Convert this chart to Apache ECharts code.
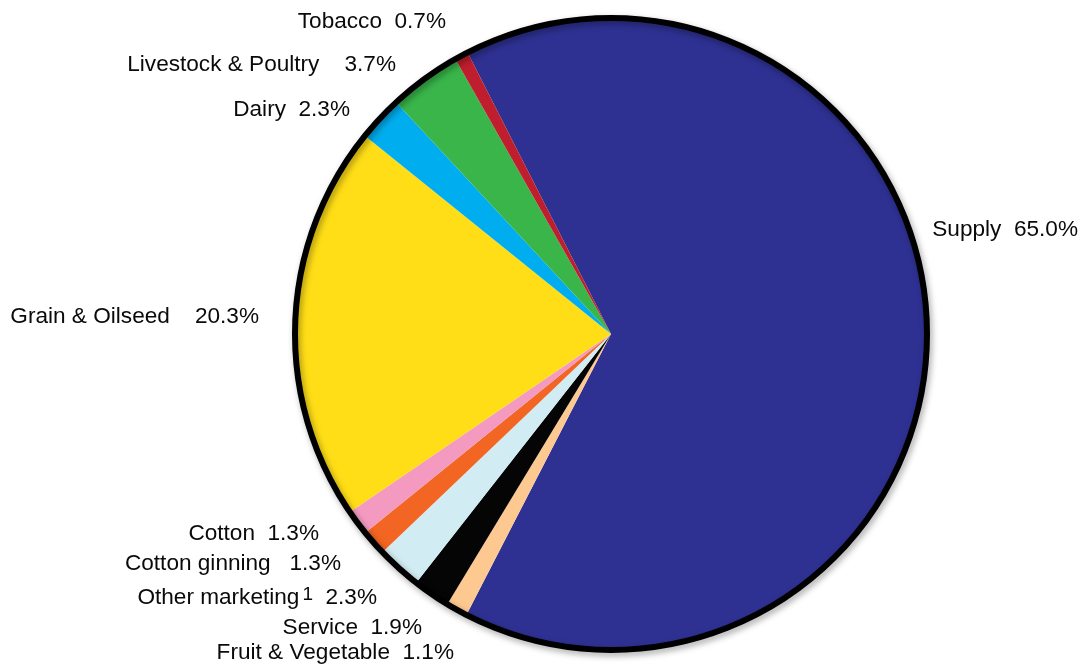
<!DOCTYPE html>
<html>
<head>
<meta charset="utf-8">
<script src="https://cdn.jsdelivr.net/npm/echarts@6/dist/echarts.min.js"></script>
<style>
  html, body { margin: 0; padding: 0; background: #ffffff; }
  #chart { width: 1082px; height: 669px; }
</style>
</head>
<body>
<div id="chart"></div>
<script>
// Shares by sector, listed clockwise starting from Supply
const categories = ['Supply', 'Fruit & Vegetable', 'Service', 'Other marketing', 'Cotton ginning',
                    'Cotton', 'Grain & Oilseed', 'Dairy', 'Livestock & Poultry', 'Tobacco'];
const shares = [65.0, 1.1, 1.9, 2.3, 1.3, 1.3, 20.3, 2.3, 3.7, 0.7];
const footnotes = ['', '', '', '1', '', '', '', '', '', ''];

// Slice colours, same order as categories
const sliceColors = ['#2E3192', '#FDC991', '#050505', '#D2ECF3', '#F26522',
                     '#F49AC1', '#FFDE17', '#00AEEF', '#39B54A', '#BE1E2D'];

// Gap between name and percentage in each label
const labelGaps = ['  ', '  ', '  ', '  ', '   ', '  ', '    ', '  ', '    ', '  '];
// Label anchor: [x, y, align]
const labelAnchors = [
  [1078, 230, 'right'],
  [454, 653, 'right'],
  [422, 628, 'right'],
  [377, 598, 'right'],
  [341, 564, 'right'],
  [319, 534, 'right'],
  [259, 317, 'right'],
  [350, 110, 'right'],
  [396, 65, 'right'],
  [446, 22, 'right']
];

const pieCenter = [611, 334];
const pieRadius = 316;
const labelFont = "'Liberation Sans', Arial, sans-serif";

const chart = echarts.init(document.getElementById('chart'), null, { renderer: 'canvas' });

const sliceData = categories.map((name, i) => ({
  name: name,
  value: shares[i],
  itemStyle: { color: sliceColors[i] }
}));

chart.setOption({
  animation: false,
  backgroundColor: '#ffffff',
  series: [
    {
      type: 'pie',
      center: pieCenter,
      radius: pieRadius,
      startAngle: 117,
      clockwise: true,
      avoidLabelOverlap: false,
      minShowLabelAngle: 0,
      data: sliceData,
      itemStyle: { borderWidth: 0 },
      emphasis: { disabled: true },
      labelLine: { show: false },
      label: {
        show: true,
        position: 'outside',
        color: '#0a0a0a',
        fontFamily: labelFont,
        fontSize: 22.6,
        lineHeight: 26,
        formatter: function (p) {
          const i = p.dataIndex;
          const sup = footnotes[i] ? '{sup|' + footnotes[i] + '}' : '';
          return '{main|' + p.name + '}' + sup + '{main|' + labelGaps[i] + p.value.toFixed(1) + '%}';
        },
        rich: {
          main: {
            fontFamily: labelFont,
            fontSize: 22.6,
            lineHeight: 26,
            color: '#0a0a0a'
          },
          sup: {
            fontFamily: labelFont,
            fontSize: 19,
            lineHeight: 19,
            verticalAlign: 'top',
            padding: [0, 0, 9, 3],
            color: '#0a0a0a'
          }
        }
      },
      labelLayout: function (params) {
        const a = labelAnchors[params.dataIndex];
        return { x: a[0], y: a[1], align: a[2], verticalAlign: 'middle', hideOverlap: false };
      }
    },
    {
      // Black outline around the whole pie, with a soft drop shadow
      type: 'pie',
      silent: true,
      center: pieCenter,
      radius: pieRadius,
      label: { show: false },
      labelLine: { show: false },
      emphasis: { disabled: true },
      data: [{
        value: 1,
        itemStyle: {
          color: 'rgba(0,0,0,0)',
          borderColor: '#000000',
          borderWidth: 6,
          shadowColor: 'rgba(0,0,0,0.35)',
          shadowBlur: 6,
          shadowOffsetX: 2,
          shadowOffsetY: 3
        }
      }]
    }
  ]
});
</script>
</body>
</html>
